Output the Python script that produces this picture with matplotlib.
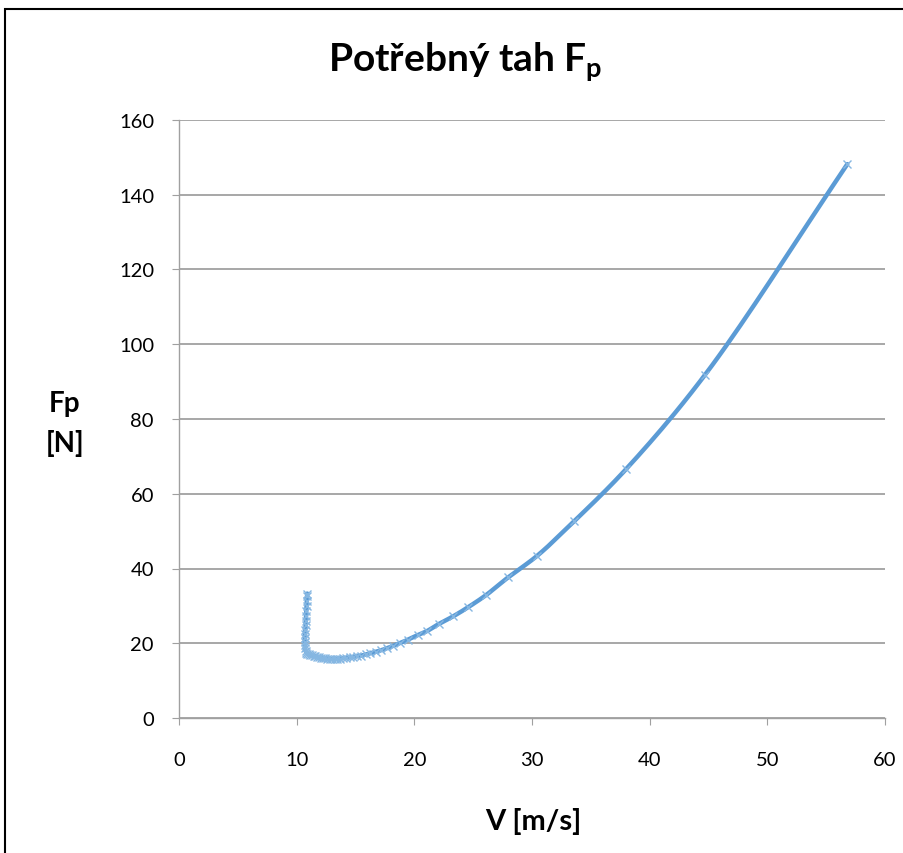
import matplotlib
matplotlib.use('Agg')
import matplotlib.pyplot as plt
from matplotlib.patches import Rectangle
import numpy as np

# values
v = [56.8, 44.7, 38.0, 33.6, 30.4, 28.0, 26.1, 24.6, 23.3, 22.1,
     21.1, 20.3, 19.5, 18.8, 18.2, 17.7, 17.15, 16.7, 16.26, 15.86,
     15.49, 15.14, 14.82, 14.51, 14.22, 13.95, 13.70, 13.46, 13.23, 13.01,
     12.80, 12.61, 12.42, 12.24, 12.06, 11.90, 11.74, 11.58, 11.44, 11.30,
     11.16, 11.03, 10.90, 10.82, 10.76, 10.72, 10.70, 10.70, 10.71, 10.72,
     10.74, 10.76, 10.78, 10.80, 10.82, 10.84, 10.86, 10.88, 10.90]
fp = [148.2, 91.8, 66.6, 52.7, 43.3, 37.7, 32.9, 29.7, 27.2, 25.2,
      23.3, 22.2, 21.0, 20.1, 19.3, 18.7, 18.1, 17.7, 17.3, 17.0,
      16.7, 16.5, 16.3, 16.2, 16.1, 16.0, 15.9, 15.85, 15.8, 15.8,
      15.85, 15.9, 15.95, 16.05, 16.15, 16.25, 16.35, 16.5, 16.6, 16.74,
      16.88, 17.01, 17.16, 17.5, 18.0, 18.7, 19.5, 20.4, 21.4, 22.5,
      23.6, 24.8, 26.0, 27.3, 28.6, 30.0, 31.4, 32.6, 33.3]

xticks = [0, 10, 20, 30, 40, 50, 60]
yticks = [0, 20, 40, 60, 80, 100, 120, 140, 160]


def smooth(x, y, n=20):
    # centripetal catmull-rom, like the "smoothed line" option in excel
    p = np.column_stack([x, y]).astype(float)
    p = np.vstack([2 * p[0] - p[1], p, 2 * p[-1] - p[-2]])
    out = []
    for i in range(1, len(p) - 2):
        p0, p1, p2, p3 = p[i - 1], p[i], p[i + 1], p[i + 2]
        t0 = 0.0
        t1 = t0 + np.linalg.norm(p1 - p0) ** 0.5 + 1e-9
        t2 = t1 + np.linalg.norm(p2 - p1) ** 0.5 + 1e-9
        t3 = t2 + np.linalg.norm(p3 - p2) ** 0.5 + 1e-9
        t = np.linspace(t1, t2, n)[:, None]
        a1 = (t1 - t) / (t1 - t0) * p0 + (t - t0) / (t1 - t0) * p1
        a2 = (t2 - t) / (t2 - t1) * p1 + (t - t1) / (t2 - t1) * p2
        a3 = (t3 - t) / (t3 - t2) * p2 + (t - t2) / (t3 - t2) * p3
        b1 = (t2 - t) / (t2 - t0) * a1 + (t - t0) / (t2 - t0) * a2
        b2 = (t3 - t) / (t3 - t1) * a2 + (t - t1) / (t3 - t1) * a3
        out.append((t2 - t) / (t2 - t1) * b1 + (t - t1) / (t2 - t1) * b2)
    out = np.vstack(out)
    return out[:, 0], out[:, 1]


plt.rcParams['font.family'] = ['Lato', 'DejaVu Sans']
plt.rcParams['mathtext.fontset'] = 'custom'
plt.rcParams['mathtext.bf'] = 'Lato:bold'
plt.rcParams['mathtext.rm'] = 'Lato'

fig = plt.figure(figsize=(9.04, 8.54), dpi=100)
ax = fig.add_axes([179 / 904, 1 - 719 / 854, 706 / 904, 598 / 854])

sx, sy = smooth(v, fp)
ax.plot(sx, sy, '-', color='#5B9BD5', lw=3.2, solid_capstyle='round', zorder=3)
ax.plot(v, fp, 'x', color='#86B7E2', ms=5.5, mew=1.0, zorder=4)

ax.set_xlim(0, 60)
ax.set_ylim(0, 160)
ax.set_xticks(xticks)
ax.set_yticks(yticks)
ax.grid(axis='y', color='#A0A0A0', lw=1.3)
ax.set_axisbelow(True)
for s in ['top', 'right']:
    ax.spines[s].set_visible(False)
for s in ['left', 'bottom']:
    ax.spines[s].set_color('#A0A0A0')
    ax.spines[s].set_linewidth(1.0)
ax.tick_params(axis='y', length=5, color='#A0A0A0', pad=13, labelsize=14.5)
ax.tick_params(axis='x', length=5, color='#A0A0A0', pad=19, labelsize=14.5)

fig.text(0.515, 1 - 62 / 854, r'Potřebný tah F$_\mathbf{p}$', ha='center',
         va='center', fontsize=28, fontweight='bold')
fig.text(65 / 904, 1 - 424 / 854, 'Fp\n[N]', ha='center', va='center',
         fontsize=20, fontweight='bold', linespacing=1.6)
fig.text(533 / 904, 1 - 822 / 854, 'V [m/s]', ha='center', va='center',
         fontsize=21, fontweight='bold')

fig.patches.append(Rectangle((5 / 904, -0.1), 1.2, 1.1 - 10 / 854,
                             transform=fig.transFigure, fill=False,
                             edgecolor='black', lw=1.5))

plt.savefig('out.png', dpi=100)
